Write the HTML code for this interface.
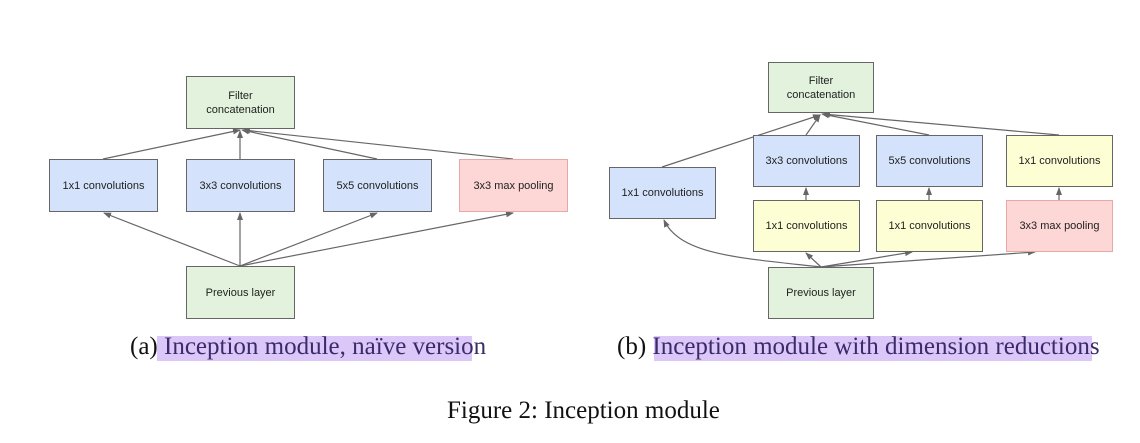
<!DOCTYPE html>
<html><head><style>
body{margin:0;background:#fff;width:1140px;height:443px;position:relative;overflow:hidden;font-family:"Liberation Sans",sans-serif}
.b{position:absolute;box-sizing:border-box;border:1.3px solid #666;display:flex;align-items:center;justify-content:center;text-align:center;font-size:11px;color:#222;line-height:14px}
.g{background:#e2f2dc}.bl{background:#d4e3fb}.r{background:#fdd6d6;border-color:#e8a8a8}.y{background:#fefed5}
.c{position:absolute;font-family:"Liberation Serif",serif;font-size:25px;color:#111;white-space:nowrap}
.h{position:absolute;background:#dcc8f8}
</style></head><body>
<svg width="1140" height="443" style="position:absolute;left:0;top:0">
<defs><marker id="a" markerWidth="8" markerHeight="8" refX="7" refY="4" orient="auto" markerUnits="userSpaceOnUse"><path d="M0,1 L8,4 L0,7z" fill="#666"/></marker></defs>
<g stroke="#666" stroke-width="1.2" fill="none" marker-end="url(#a)">
<line x1="103" y1="159" x2="240" y2="130"/>
<line x1="240" y1="159" x2="240" y2="131"/>
<line x1="377" y1="159" x2="242" y2="130"/>
<line x1="513" y1="159" x2="243" y2="130"/>
<line x1="240" y1="266" x2="104" y2="213"/>
<line x1="240" y1="266" x2="240" y2="213"/>
<line x1="240" y1="266" x2="377" y2="213"/>
<line x1="240" y1="266" x2="513" y2="213"/>
<line x1="662" y1="167" x2="820" y2="115"/>
<line x1="806" y1="135" x2="820" y2="115"/>
<line x1="929" y1="135" x2="822" y2="114"/>
<line x1="1059" y1="135" x2="823" y2="114"/>
<line x1="806" y1="200" x2="806" y2="188"/>
<line x1="929" y1="200" x2="929" y2="188"/>
<line x1="1059" y1="200" x2="1059" y2="188"/>
<line x1="821" y1="267" x2="806" y2="253"/>
<line x1="821" y1="267" x2="912" y2="252"/>
<line x1="821" y1="267" x2="1035" y2="252"/>
<path d="M821,267 C740,258 680,255 664,220"/>
</g></svg>
<div class="b g" style="left:186px;top:76px;width:109px;height:53px">Filter<br>concatenation</div>
<div class="b bl" style="left:49px;top:159px;width:109px;height:53px">1x1 convolutions</div>
<div class="b bl" style="left:186px;top:159px;width:109px;height:53px">3x3 convolutions</div>
<div class="b bl" style="left:323px;top:159px;width:109px;height:53px">5x5 convolutions</div>
<div class="b r" style="left:459px;top:159px;width:109px;height:53px">3x3 max pooling</div>
<div class="b g" style="left:186px;top:266px;width:109px;height:53px">Previous layer</div>

<div class="b g" style="left:768px;top:62px;width:106px;height:51px">Filter<br>concatenation</div>
<div class="b bl" style="left:609px;top:167px;width:107px;height:52px">1x1 convolutions</div>
<div class="b bl" style="left:753px;top:135px;width:107px;height:52px">3x3 convolutions</div>
<div class="b bl" style="left:876px;top:135px;width:107px;height:52px">5x5 convolutions</div>
<div class="b y" style="left:1006px;top:135px;width:107px;height:52px">1x1 convolutions</div>
<div class="b y" style="left:753px;top:200px;width:107px;height:52px">1x1 convolutions</div>
<div class="b y" style="left:876px;top:200px;width:107px;height:52px">1x1 convolutions</div>
<div class="b r" style="left:1006px;top:200px;width:107px;height:52px">3x3 max pooling</div>
<div class="b g" style="left:768px;top:267px;width:106px;height:52px">Previous layer</div>

<div class="h" style="left:157px;top:336px;width:315px;height:25px"></div>
<div class="h" style="left:654px;top:336px;width:438px;height:25px"></div>
<div class="c" style="left:130px;top:333px">(a) <span style="color:#3a2a6a">Inception module, naïve version</span></div>
<div class="c" style="left:617px;top:333px">(b) <span style="color:#3a2a6a">Inception module with dimension reductions</span></div>
<div class="c" style="left:447px;top:397px">Figure 2: Inception module</div>
</body></html>
